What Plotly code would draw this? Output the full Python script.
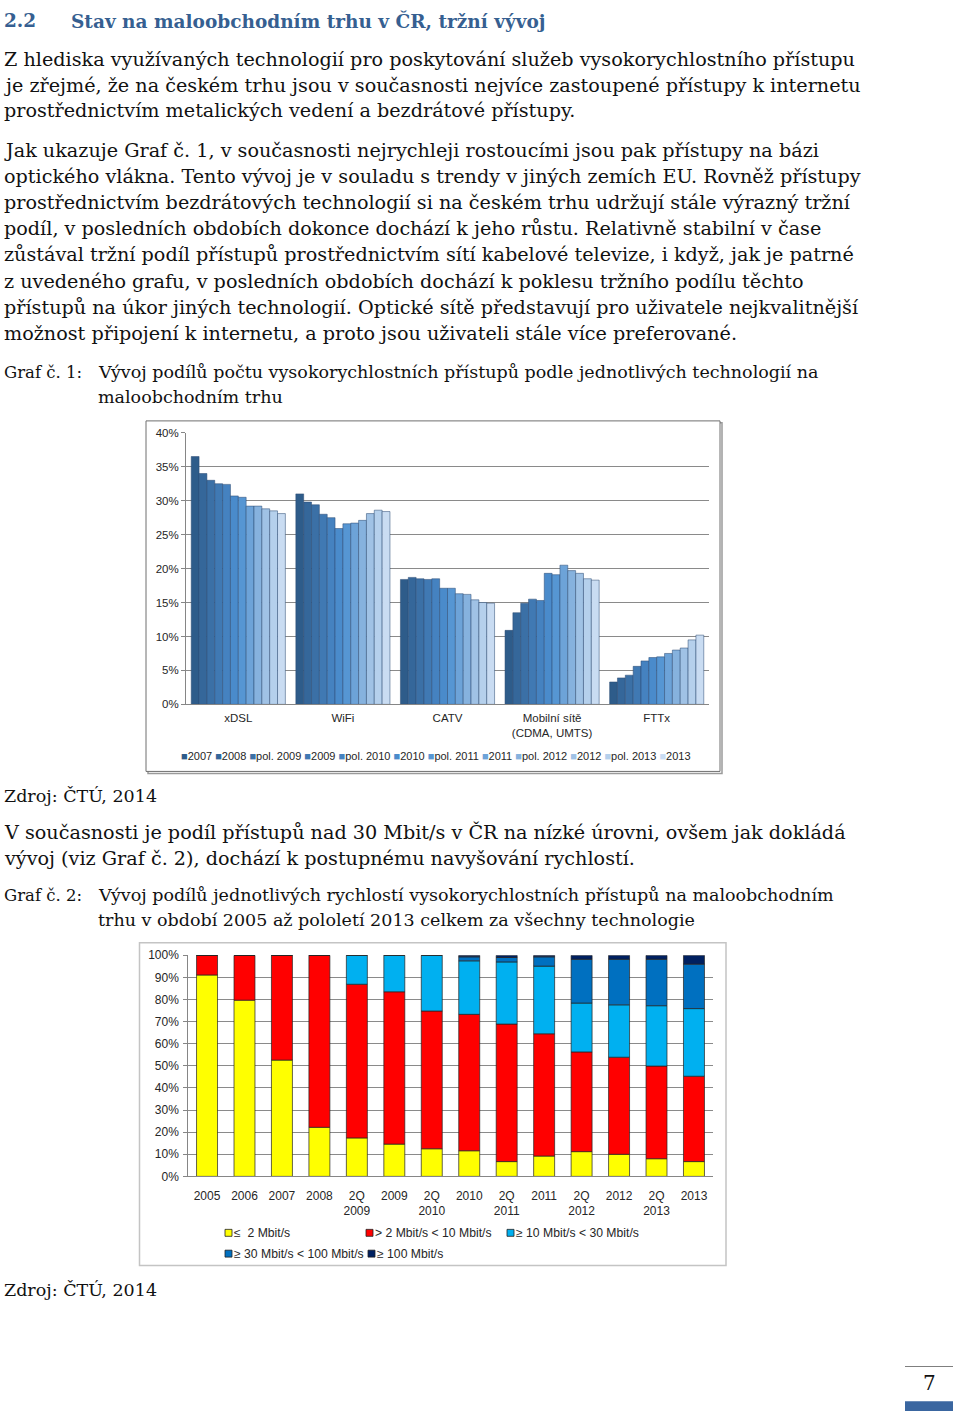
import plotly.graph_objects as go

W, H = 960, 1425

# ---------------- Chart 1 data ----------------
technologies = ["xDSL", "WiFi", "CATV", "Mobilní sítě<br>(CDMA, UMTS)", "FTTx"]
periods = ["2007", "2008", "pol. 2009", "2009", "pol. 2010", "2010",
           "pol. 2011", "2011", "pol. 2012", "2012", "pol. 2013", "2013"]
xdsl = [36.5, 34.0, 33.0, 32.5, 32.4, 30.7, 30.5, 29.2, 29.2, 28.8, 28.5, 28.1]
wifi = [31.0, 29.8, 29.4, 28.0, 27.5, 25.9, 26.6, 26.7, 27.1, 28.1, 28.6, 28.4]
catv = [18.4, 18.7, 18.5, 18.4, 18.5, 17.1, 17.1, 16.3, 16.2, 15.4, 15.0, 14.9]
mobile = [10.9, 13.5, 14.9, 15.5, 15.3, 19.3, 19.1, 20.5, 19.7, 19.3, 18.5, 18.3]
fttx = [3.3, 3.9, 4.3, 5.6, 6.4, 6.9, 7.0, 7.5, 8.0, 8.3, 9.5, 10.2]
period_colors = ["#2E5C8A", "#35679A", "#3B70A6", "#4079B3", "#4582C0", "#4A8BCB",
                 "#5696D3", "#6DA3D8", "#86B2DE", "#A0C2E5", "#B5D0EC", "#C9DCF2"]

# ---------------- Chart 2 data ----------------
years = ["2005", "2006", "2007", "2008", "2Q<br>2009", "2009", "2Q<br>2010", "2010",
         "2Q<br>2011", "2011", "2Q<br>2012", "2012", "2Q<br>2013", "2013"]
speed_names = ["≤  2 Mbit/s", "> 2 Mbit/s < 10 Mbit/s", "≥ 10 Mbit/s < 30 Mbit/s",
               "≥ 30 Mbit/s < 100 Mbit/s", "≥ 100 Mbit/s"]
s_le2 = [91.1, 79.7, 52.6, 22.2, 17.4, 14.6, 12.5, 11.6, 6.7, 9.2, 11.2, 10.0, 8.0, 6.7]
s_2_10 = [8.9, 20.3, 47.4, 77.8, 69.5, 68.9, 62.3, 61.7, 62.2, 55.3, 45.1, 43.9, 41.9, 38.6]
s_10_30 = [0, 0, 0, 0, 13.1, 16.5, 25.2, 24.2, 28.1, 30.6, 22.1, 23.7, 27.3, 30.6]
s_30_100 = [0, 0, 0, 0, 0, 0, 0, 1.8, 2.0, 4.2, 19.8, 20.6, 21.0, 20.1]
s_100 = [0, 0, 0, 0, 0, 0, 0, 0.7, 1.0, 0.7, 1.8, 1.8, 1.8, 4.0]
speed_colors = ["#FFFF00", "#FF0000", "#00B0F0", "#0070C0", "#002060"]

SERIF = "DejaVu Serif, Cambria, serif"
SANS = "Liberation Sans, Arial, sans-serif"

fig = go.Figure()

# chart 1: grouped bars (positioned within each category via offset/width)
tech_values = [xdsl, wifi, catv, mobile, fttx]
n = len(periods)
gw = 0.9
for i, p in enumerate(periods):
    fig.add_trace(go.Bar(
        x=technologies, y=[v[i] for v in tech_values], name=p,
        width=gw / n, offset=-gw / 2 + i * gw / n,
        marker=dict(color=period_colors[i], line=dict(color="rgba(45,75,115,0.75)", width=0.7)),
        xaxis="x", yaxis="y", showlegend=False))

# chart 2: stacked bars (base = running total of lower segments)
running = [0.0] * len(years)
for name, vals, col in zip(speed_names, [s_le2, s_2_10, s_10_30, s_30_100, s_100], speed_colors):
    fig.add_trace(go.Bar(
        x=years, y=vals, base=list(running), name=name, width=0.56,
        marker=dict(color=col, line=dict(color="#222222", width=0.7)),
        xaxis="x2", yaxis="y2", showlegend=False))
    running = [a + b for a, b in zip(running, vals)]


def px(x):
    return x / W


def py(y):
    return 1 - y / H


fig.update_layout(
    width=W, height=H, margin=dict(l=0, r=0, t=0, b=0),
    paper_bgcolor="white", plot_bgcolor="white",
    barmode="overlay",
    xaxis=dict(domain=[px(186), px(709)], anchor="y", showgrid=False,
               showline=True, linecolor="#868686", linewidth=1, ticks="",
               ticklabelstandoff=3,
               tickfont=dict(family=SANS, size=11.5, color="#262626"), fixedrange=True),
    yaxis=dict(domain=[py(704.3), py(430)], anchor="x", range=[0, 40], dtick=5,
               ticksuffix="%", showgrid=True, gridcolor="#8a8a8a", gridwidth=1,
               showline=True, linecolor="#868686", ticks="outside", ticklen=4,
               tickcolor="#868686", zeroline=False,
               tickfont=dict(family=SANS, size=11.5, color="#262626"), fixedrange=True),
    xaxis2=dict(domain=[px(188.3), px(712.7)], anchor="y2", showgrid=False,
                showline=True, linecolor="#868686", linewidth=1, ticks="",
                ticklabelstandoff=8,
                tickfont=dict(family=SANS, size=12, color="#262626"), fixedrange=True),
    yaxis2=dict(domain=[py(1181), py(957.7)], anchor="x2", range=[0, 100], dtick=10,
                ticksuffix="%", showgrid=True, gridcolor="#8a8a8a", gridwidth=1,
                showline=True, linecolor="#868686", ticks="outside", ticklen=4,
                tickcolor="#868686", zeroline=False, ticklabelstandoff=2,
                tickfont=dict(family=SANS, size=12, color="#262626"), fixedrange=True),
)

ann = []


def text(x, y, s, size=19.2, color="#111111", family=SERIF, xanchor="left", bold=False):
    if bold:
        s = "<b>" + s + "</b>"
    ann.append(dict(x=px(x), y=py(y), xref="paper", yref="paper", text=s,
                    showarrow=False, xanchor=xanchor, yanchor="middle",
                    font=dict(family=family, size=size, color=color)))


BLUE = "#365F91"
text(2, 14, "2.2", size=18.5, color=BLUE, bold=True)
text(69, 14, "Stav na maloobchodním trhu v ČR, tržní vývoj", size=18.5, color=BLUE, bold=True)

para = [
    (53, "Z hlediska využívaných technologií pro poskytování služeb vysokorychlostního přístupu"),
    (79, "je zřejmé, že na českém trhu jsou v současnosti nejvíce zastoupené přístupy k internetu"),
    (105, "prostřednictvím metalických vedení a bezdrátové přístupy."),
    (145, "Jak ukazuje Graf č. 1, v současnosti nejrychleji rostoucími jsou pak přístupy na bázi"),
    (171, "optického vlákna. Tento vývoj je v souladu s trendy v jiných zemích EU. Rovněž přístupy"),
    (197, "prostřednictvím bezdrátových technologií si na českém trhu udržují stále výrazný tržní"),
    (224, "podíl, v posledních obdobích dokonce dochází k jeho růstu. Relativně stabilní v čase"),
    (250, "zůstával tržní podíl přístupů prostřednictvím sítí kabelové televize, i když, jak je patrné"),
    (277, "z uvedeného grafu, v posledních obdobích dochází k poklesu tržního podílu těchto"),
    (303, "přístupů na úkor jiných technologií. Optické sítě představují pro uživatele nejkvalitnější"),
    (330, "možnost připojení k internetu, a proto jsou uživateli stále více preferované."),
    (834, "V současnosti je podíl přístupů nad 30 Mbit/s v ČR na nízké úrovni, ovšem jak dokládá"),
    (860, "vývoj (viz Graf č. 2), dochází k postupnému navyšování rychlostí."),
]
for y, s in para:
    text(2, y, s)

CAP = 17.5
text(2, 369, "Graf č. 1:", size=16.5)
text(96, 369, "Vývoj podílů počtu vysokorychlostních přístupů podle jednotlivých technologií na", size=CAP)
text(96, 394, "maloobchodním trhu", size=CAP)
text(2, 797, "Zdroj: ČTÚ, 2014", size=CAP)
text(2, 897, "Graf č. 2:", size=16.5)
text(96, 897, "Vývoj podílů jednotlivých rychlostí vysokorychlostních přístupů na maloobchodním", size=CAP)
text(96, 922, "trhu v období 2005 až pololetí 2013 celkem za všechny technologie", size=CAP)
text(2, 1296, "Zdroj: ČTÚ, 2014", size=CAP)
text(929, 1390, "7", size=20, color="#111111", xanchor="center")

# chart 1 legend (single line with coloured squares)
leg1 = " ".join(f"<span style='color:{c}'>■</span>{p}" for p, c in zip(periods, period_colors))
text(435.5, 756, leg1, size=11, color="#262626", family=SANS, xanchor="center")

# chart 2 legend
leg2_pos = [(225, 1238), (366, 1238), (507, 1238), (225, 1259), (368, 1259)]
shapes = []
for (lx, ly), name, col in zip(leg2_pos, speed_names, speed_colors):
    shapes.append(dict(type="rect", xref="paper", yref="paper",
                       x0=px(lx), x1=px(lx + 7), y0=py(ly + 3.5), y1=py(ly - 3.5),
                       fillcolor=col, line=dict(color="#222222", width=0.8)))
    text(lx + 7, ly, name, size=12.2, color="#262626", family=SANS)

# frames
shapes.append(dict(type="rect", xref="paper", yref="paper", x0=px(148), x1=px(722),
                   y0=py(774), y1=py(420), line=dict(color="#9a9a9a", width=1.5), layer="below"))
shapes.append(dict(type="rect", xref="paper", yref="paper", x0=px(146), x1=px(720),
                   y0=py(772), y1=py(418), line=dict(color="#6e6e6e", width=1),
                   fillcolor="white", layer="below"))
shapes.append(dict(type="rect", xref="paper", yref="paper", x0=px(139.5), x1=px(726),
                   y0=py(1271), y1=py(945), line=dict(color="#c4c4c4", width=1.5), layer="below"))
# page number decorations
shapes.append(dict(type="line", xref="paper", yref="paper", x0=px(905), x1=px(953),
                   y0=py(1373), y1=py(1373), line=dict(color="#7f7f7f", width=1.2)))
shapes.append(dict(type="rect", xref="paper", yref="paper", x0=px(905), x1=px(953),
                   y0=py(1418), y1=py(1408), line=dict(width=0), fillcolor="#3A66A0"))

fig.update_layout(annotations=ann, shapes=shapes)
fig.write_html("out.html")
